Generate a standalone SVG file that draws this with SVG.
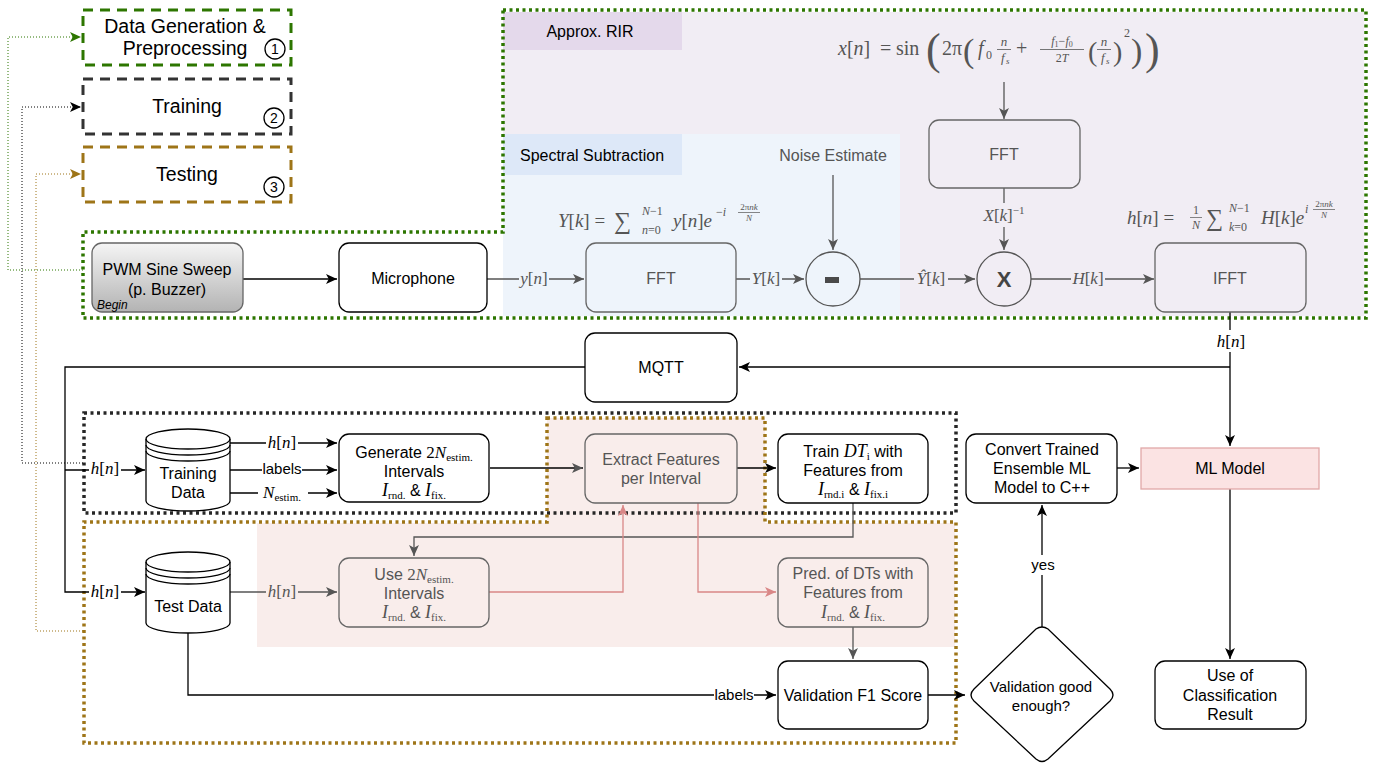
<svg xmlns="http://www.w3.org/2000/svg" width="1390" height="764" viewBox="0 0 1390 764">
<style>
.s{font-family:"Liberation Sans",Arial,sans-serif;font-size:16px;fill:#000;text-anchor:middle}
.e{font-size:15px}
.g{fill:#555}
.lg{font-size:19.5px}
.mr{font-family:"Liberation Serif","DejaVu Serif",serif;font-style:normal}
.mi{font-family:"Liberation Serif","DejaVu Serif",serif;font-style:italic}
.m{font-family:"Liberation Serif","DejaVu Serif",serif;font-size:17px;text-anchor:middle}
.sb{font-family:"Liberation Serif","DejaVu Serif",serif;font-size:11px;font-style:normal}
.box{fill:#fff;stroke:#000;stroke-width:1.3}
.gbox{fill:none;stroke:#666;stroke-width:1.3}
.ln{fill:none;stroke:#000;stroke-width:1.3}
.gl{fill:none;stroke:#555;stroke-width:1.3}
.pl{fill:none;stroke:#D98787;stroke-width:1.3}
.dotg{fill:none;stroke:#2D7600;stroke-width:3.5;stroke-dasharray:3 3.5}
.dotk{fill:none;stroke:#262626;stroke-width:3.5;stroke-dasharray:3 3.5}
.dotb{fill:none;stroke:#9E7518;stroke-width:3.5;stroke-dasharray:3 3.5}
.thin{fill:none;stroke-width:1;stroke-dasharray:1 2}
</style>
<defs>
<marker id="ak" viewBox="0 0 10 10" refX="10" refY="5" markerWidth="11" markerHeight="11" markerUnits="userSpaceOnUse" orient="auto"><path d="M0,0.5 L10,5 L0,9.5 L2.5,5 Z" fill="#000"/></marker>
<marker id="ag" viewBox="0 0 10 10" refX="10" refY="5" markerWidth="11" markerHeight="11" markerUnits="userSpaceOnUse" orient="auto"><path d="M0,0.5 L10,5 L0,9.5 L2.5,5 Z" fill="#555"/></marker>
<marker id="ap" viewBox="0 0 10 10" refX="10" refY="5" markerWidth="11" markerHeight="11" markerUnits="userSpaceOnUse" orient="auto"><path d="M0,0.5 L10,5 L0,9.5 L2.5,5 Z" fill="#D98787"/></marker>
<marker id="agr" viewBox="0 0 10 10" refX="10" refY="5" markerWidth="11" markerHeight="11" markerUnits="userSpaceOnUse" orient="auto"><path d="M0,0.5 L10,5 L0,9.5 L2.5,5 Z" fill="#2D7600"/></marker>
<marker id="abr" viewBox="0 0 10 10" refX="10" refY="5" markerWidth="11" markerHeight="11" markerUnits="userSpaceOnUse" orient="auto"><path d="M0,0.5 L10,5 L0,9.5 L2.5,5 Z" fill="#9E7518"/></marker>
<linearGradient id="gray" x1="0" y1="0" x2="0" y2="1"><stop offset="0" stop-color="#F5F5F5"/><stop offset="1" stop-color="#B3B3B3"/></linearGradient>
</defs>

<!-- background regions -->
<g id="regions">
<rect x="503" y="12" width="861" height="304" fill="#F1EDF4"/>
<rect x="503" y="12" width="179" height="38" fill="#E4D9EB"/>
<text class="s" x="590" y="37">Approx. RIR</text>
<rect x="503" y="134" width="397" height="182" fill="#EEF4FB"/>
<rect x="503" y="134" width="179" height="41" fill="#DDE8F8"/>
<text class="s" x="592" y="161">Spectral Subtraction</text>
<path d="M547,418 H765 V523 H955 V647 H257 V523 H547 Z" fill="#F9EDEB"/>
<path class="dotg" d="M503,10 H1366 V318 H83 V232 H503 Z"/>
<rect class="dotk" x="84" y="413" width="872" height="100"/>
<path class="dotb" d="M547,418 H765 V522 H956 V743 H84 V522 H547 Z"/>
</g>

<!-- legend -->
<g id="legend1">
<rect x="83" y="10" width="208" height="55" fill="none" stroke="#2D7600" stroke-width="3" stroke-dasharray="10 7"/>
<text class="s lg" x="185" y="33">Data Generation &amp;</text>
<text class="s lg" x="185" y="55">Preprocessing</text>
<circle cx="275" cy="49" r="10" fill="none" stroke="#000" stroke-width="1.3"/>
<text class="s" x="275" y="54" style="font-size:14px">1</text>
</g>
<g id="legend2">
<rect x="83" y="79" width="208" height="55" fill="none" stroke="#333" stroke-width="3" stroke-dasharray="10 7"/>
<text class="s lg" x="187" y="113">Training</text>
<circle cx="274" cy="118" r="10" fill="none" stroke="#000" stroke-width="1.3"/>
<text class="s" x="274" y="123" style="font-size:14px">2</text>
</g>
<g id="legend3">
<rect x="83" y="147" width="208" height="55" fill="none" stroke="#9E7518" stroke-width="3" stroke-dasharray="10 7"/>
<text class="s lg" x="187" y="181">Testing</text>
<circle cx="274" cy="187" r="10" fill="none" stroke="#000" stroke-width="1.3"/>
<text class="s" x="274" y="192" style="font-size:14px">3</text>
</g>

<!-- connectors -->
<g id="connectors">
<path class="thin" stroke="#2D7600" d="M83,270 H8 V37 H81" marker-end="url(#agr)"/>
<path class="thin" stroke="#000" d="M83,463 H22 V107 H81" marker-end="url(#ak)"/>
<path class="thin" stroke="#9E7518" d="M83,631 H36 V174 H81" marker-end="url(#abr)"/>

<path class="ln" d="M243,279 H337" marker-end="url(#ak)"/>
<path class="gl" d="M487,279 H584" marker-end="url(#ag)"/>
<path class="gl" d="M736,279 H804" marker-end="url(#ag)"/>
<path class="gl" d="M860,279 H975" marker-end="url(#ag)"/>
<path class="gl" d="M1031,279 H1154" marker-end="url(#ag)"/>
<path class="gl" d="M1004,82 V119" marker-end="url(#ag)"/>
<path class="gl" d="M1004,188 V250" marker-end="url(#ag)"/>
<path class="gl" d="M833,175 V250" marker-end="url(#ag)"/>

<path class="ln" d="M1230,312 V446" marker-end="url(#ak)"/>
<path class="ln" stroke="#333" d="M1230,367 H739" marker-end="url(#ak)"/>
<path class="ln" stroke="#333" d="M585,367 H65 V592 H145" marker-end="url(#ak)"/>
<path class="ln" d="M65,470 H145" marker-end="url(#ak)"/>

<path class="ln" d="M230,443 H337" marker-end="url(#ak)"/>
<path class="ln" d="M230,470 H337" marker-end="url(#ak)"/>
<path class="ln" d="M230,493 H337" marker-end="url(#ak)"/>
<path class="ln" stroke="#333" d="M490,468 H583" marker-end="url(#ag)"/>
<path class="ln" d="M737,468 H776" marker-end="url(#ak)"/>
<path class="gl" d="M853,503 V537 H414 V556" marker-end="url(#ag)"/>

<path class="gl" d="M230,592 H337" marker-end="url(#ag)"/>
<path class="pl" d="M489,592 H623 V505" marker-end="url(#ap)"/>
<path class="pl" d="M698,503 V592 H776" marker-end="url(#ap)"/>
<path class="gl" d="M853,627 V659" marker-end="url(#ag)"/>
<path class="ln" stroke="#333" d="M188,633 V695 H776" marker-end="url(#ak)"/>
<path class="ln" d="M928,695 H965" marker-end="url(#ak)"/>
<path class="ln" d="M1042,627 V505" marker-end="url(#ak)"/>
<path class="ln" d="M1117,468 H1139" marker-end="url(#ak)"/>
<path class="ln" d="M1230,489 V659" marker-end="url(#ak)"/>

<!-- edge labels -->
<rect x="519" y="268" width="30" height="22" fill="#EEF4FB"/>
<text class="m g" x="534" y="284"><tspan class="mi">y</tspan>[<tspan class="mi">n</tspan>]</text>
<rect x="750" y="268" width="32" height="22" fill="#EEF4FB"/>
<text class="m g" x="766" y="284"><tspan class="mi">Y</tspan>[<tspan class="mi">k</tspan>]</text>
<rect x="914" y="264" width="34" height="26" fill="#F1EDF4"/>
<text class="m g" x="931" y="284"><tspan class="mi">Ŷ</tspan>[<tspan class="mi">k</tspan>]</text>
<rect x="1071" y="268" width="34" height="22" fill="#F1EDF4"/>
<text class="m g" x="1088" y="284"><tspan class="mi">H</tspan>[<tspan class="mi">k</tspan>]</text>
<rect x="978" y="203" width="54" height="24" fill="#F1EDF4"/>
<text class="m g" x="1004" y="221"><tspan class="mi">X</tspan>[<tspan class="mi">k</tspan>]<tspan font-size="11" dy="-7">−1</tspan></text>
<rect x="1215" y="330" width="32" height="22" fill="#fff"/>
<text class="m" x="1231" y="347"><tspan class="mi">h</tspan>[<tspan class="mi">n</tspan>]</text>

<rect x="89" y="458" width="32" height="22" fill="#fff"/>
<text class="m" x="105" y="474"><tspan class="mi">h</tspan>[<tspan class="mi">n</tspan>]</text>
<rect x="89" y="580" width="32" height="22" fill="#fff"/>
<text class="m" x="105" y="597"><tspan class="mi">h</tspan>[<tspan class="mi">n</tspan>]</text>
<rect x="266" y="432" width="32" height="22" fill="#fff"/>
<text class="m" x="282" y="448"><tspan class="mi">h</tspan>[<tspan class="mi">n</tspan>]</text>
<rect x="262" y="460" width="40" height="20" fill="#fff"/>
<text class="s e" x="282" y="474">labels</text>
<rect x="258" y="482" width="50" height="24" fill="#fff"/>
<text class="m" x="282" y="498"><tspan class="mi">N</tspan><tspan class="sb" dy="3">estim.</tspan></text>
<rect x="266" y="580" width="32" height="22" fill="#F9EDEB"/>
<text class="m g" x="282" y="597"><tspan class="mi">h</tspan>[<tspan class="mi">n</tspan>]</text>
<rect x="714" y="686" width="40" height="20" fill="#fff"/>
<text class="s e" x="734" y="700">labels</text>
<rect x="1028" y="555" width="30" height="20" fill="#fff"/>
<text class="s e" x="1043" y="570">yes</text>
</g>

<!-- formulas -->
<g id="formula-x" fill="#555" font-family="Liberation Serif,DejaVu Serif,serif">
<text x="838" y="55" font-size="20"><tspan font-style="italic">x</tspan>[<tspan font-style="italic">n</tspan>]</text>
<text x="880" y="55" font-size="20">=</text>
<text x="896" y="55" font-size="20">sin</text>
<text x="926" y="64" font-size="44">(</text>
<text x="942" y="55" font-size="20">2π</text>
<text x="963" y="62" font-size="34">(</text>
<text x="978" y="55" font-size="20" font-style="italic">f</text>
<text x="986" y="59" font-size="12">0</text>
<text x="1004" y="46" font-size="13" font-style="italic" text-anchor="middle">n</text>
<line x1="997" y1="49.5" x2="1011" y2="49.5" stroke="#555" stroke-width="0.8"/>
<text x="1001" y="62" font-size="13" font-style="italic">f</text>
<text x="1006" y="64" font-size="9" font-style="italic">s</text>
<text x="1016" y="55" font-size="20">+</text>
<text x="1062" y="45" font-size="12" text-anchor="middle"><tspan font-style="italic">f</tspan><tspan font-size="8" dy="2">1</tspan><tspan dy="-2">−</tspan><tspan font-style="italic">f</tspan><tspan font-size="8" dy="2">0</tspan></text>
<line x1="1040" y1="49.5" x2="1084" y2="49.5" stroke="#555" stroke-width="0.8"/>
<text x="1062" y="62" font-size="12" text-anchor="middle">2<tspan font-style="italic">T</tspan></text>
<text x="1088" y="61" font-size="28">(</text>
<text x="1104" y="46" font-size="13" font-style="italic" text-anchor="middle">n</text>
<line x1="1097" y1="49.5" x2="1111" y2="49.5" stroke="#555" stroke-width="0.8"/>
<text x="1101" y="62" font-size="13" font-style="italic">f</text>
<text x="1106" y="64" font-size="9" font-style="italic">s</text>
<text x="1113" y="61" font-size="28">)</text>
<text x="1124" y="37" font-size="12">2</text>
<text x="1131" y="62" font-size="34">)</text>
<text x="1145" y="64" font-size="44">)</text>
</g>

<g id="formula-Y" fill="#555" font-family="Liberation Serif,DejaVu Serif,serif">
<text x="558" y="227" font-size="19"><tspan font-style="italic">Y</tspan>[<tspan font-style="italic">k</tspan>] =</text>
<text x="614" y="229" font-size="24">∑</text>
<text x="642" y="215" font-size="12"><tspan font-style="italic">N</tspan>−1</text>
<text x="642" y="234" font-size="12"><tspan font-style="italic">n</tspan>=0</text>
<text x="673" y="227" font-size="19"><tspan font-style="italic">y</tspan>[<tspan font-style="italic">n</tspan>]<tspan font-style="italic">e</tspan></text>
<text x="716" y="216" font-size="12">−<tspan font-style="italic">i</tspan></text>
<text x="749" y="210" font-size="9" font-style="italic" text-anchor="middle"><tspan font-style="normal">2π</tspan>nk</text>
<line x1="738" y1="212.5" x2="760" y2="212.5" stroke="#555" stroke-width="0.7"/>
<text x="749" y="221" font-size="9" font-style="italic" text-anchor="middle">N</text>
</g>

<g id="formula-h" fill="#555" font-family="Liberation Serif,DejaVu Serif,serif">
<text x="1127" y="224" font-size="19"><tspan font-style="italic">h</tspan>[<tspan font-style="italic">n</tspan>] =</text>
<text x="1196" y="214" font-size="12" text-anchor="middle">1</text>
<line x1="1190" y1="217.5" x2="1202" y2="217.5" stroke="#555" stroke-width="0.7"/>
<text x="1196" y="229" font-size="12" font-style="italic" text-anchor="middle">N</text>
<text x="1206" y="226" font-size="24">∑</text>
<text x="1229" y="212" font-size="12"><tspan font-style="italic">N</tspan>−1</text>
<text x="1229" y="231" font-size="12"><tspan font-style="italic">k</tspan>=0</text>
<text x="1261" y="224" font-size="19"><tspan font-style="italic">H</tspan>[<tspan font-style="italic">k</tspan>]<tspan font-style="italic">e</tspan></text>
<text x="1305" y="213" font-size="12" font-style="italic">i</text>
<text x="1324" y="207" font-size="9" font-style="italic" text-anchor="middle"><tspan font-style="normal">2π</tspan>nk</text>
<line x1="1313" y1="209.5" x2="1335" y2="209.5" stroke="#555" stroke-width="0.7"/>
<text x="1324" y="218" font-size="9" font-style="italic" text-anchor="middle">N</text>
</g>

<g id="noise-estimate"><text class="s g" x="833" y="161">Noise Estimate</text></g>

<!-- nodes -->
<g id="pwm">
<rect x="92" y="243" width="151" height="69" rx="10" fill="url(#gray)" stroke="#666" stroke-width="1.3"/>
<text class="s" x="167" y="275">PWM Sine Sweep</text>
<text class="s" x="167" y="295">(p. Buzzer)</text>
<text x="97" y="309" font-family="Liberation Sans,Arial,sans-serif" font-size="12" font-style="italic">Begin</text>
</g>
<g id="microphone">
<rect class="box" x="339" y="243" width="148" height="69" rx="10"/>
<text class="s" x="413" y="284">Microphone</text>
</g>
<g id="fft1">
<rect class="gbox" x="586" y="243" width="150" height="69" rx="10"/>
<text class="s g" x="661" y="284">FFT</text>
</g>
<g id="minus">
<circle cx="833" cy="279" r="27" fill="none" stroke="#555" stroke-width="1.3"/>
<rect x="825" y="277" width="14" height="6" fill="#4a4a4a"/>
</g>
<g id="fft2">
<rect class="gbox" x="929" y="120" width="151" height="68" rx="10"/>
<text class="s g" x="1004" y="160">FFT</text>
</g>
<g id="mult">
<circle cx="1004" cy="279" r="27" fill="none" stroke="#555" stroke-width="1.3"/>
<text class="s" x="1004" y="287" style="font-size:22px;font-weight:bold;fill:#444">X</text>
</g>
<g id="ifft">
<rect class="gbox" x="1155" y="243" width="151" height="69" rx="10"/>
<text class="s g" x="1230" y="284">IFFT</text>
</g>
<g id="mqtt">
<rect class="box" x="585" y="333" width="152" height="69" rx="10"/>
<text class="s" x="661" y="373">MQTT</text>
</g>
<g id="training-data">
<path d="M146,439 A42,10 0 0 1 230,439 V501 A42,10 0 0 1 146,501 Z" fill="#fff" stroke="#000" stroke-width="1.3"/>
<path d="M146,439 A42,10 0 0 0 230,439 M146,445 A42,10 0 0 0 230,445 M146,451 A42,10 0 0 0 230,451" fill="none" stroke="#000" stroke-width="1.3"/>
<text class="s" x="188" y="479">Training</text>
<text class="s" x="188" y="498">Data</text>
</g>
<g id="test-data">
<path d="M146,562 A42,10 0 0 1 230,562 V623 A42,10 0 0 1 146,623 Z" fill="#fff" stroke="#000" stroke-width="1.3"/>
<path d="M146,562 A42,10 0 0 0 230,562 M146,568 A42,10 0 0 0 230,568 M146,574 A42,10 0 0 0 230,574" fill="none" stroke="#000" stroke-width="1.3"/>
<text class="s" x="188" y="612">Test Data</text>
</g>
<g id="generate">
<rect class="box" x="339" y="434" width="150" height="68" rx="10"/>
<text class="s" x="414" y="458">Generate <tspan class="mr" font-size="17">2</tspan><tspan class="mi" font-size="17">N</tspan><tspan class="sb" dy="3">estim.</tspan></text>
<text class="s" x="414" y="477">Intervals</text>
<text class="s" x="414" y="496"><tspan class="mi" font-size="18">I</tspan><tspan class="sb" dy="3">rnd.</tspan><tspan dy="-3"> &amp; </tspan><tspan class="mi" font-size="18">I</tspan><tspan class="sb" dy="3">fix.</tspan></text>
</g>
<g id="extract">
<rect class="gbox" x="585" y="434" width="152" height="69" rx="10"/>
<text class="s g" x="661" y="465">Extract Features</text>
<text class="s g" x="661" y="484">per Interval</text>
</g>
<g id="train-dt">
<rect class="box" x="778" y="434" width="150" height="69" rx="10"/>
<text class="s" x="853" y="457">Train <tspan class="mi" font-size="18">DT</tspan><tspan class="sb" dy="3">i</tspan><tspan dy="-3"> with</tspan></text>
<text class="s" x="853" y="476">Features from</text>
<text class="s" x="853" y="495"><tspan class="mi" font-size="18">I</tspan><tspan class="sb" dy="3">rnd.i</tspan><tspan dy="-3"> &amp; </tspan><tspan class="mi" font-size="18">I</tspan><tspan class="sb" dy="3">fix.i</tspan></text>
</g>
<g id="use-intervals">
<rect class="gbox" x="339" y="558" width="150" height="69" rx="10"/>
<text class="s g" x="414" y="580">Use <tspan class="mr" font-size="17">2</tspan><tspan class="mi" font-size="17">N</tspan><tspan class="sb" dy="3">estim.</tspan></text>
<text class="s g" x="414" y="599">Intervals</text>
<text class="s g" x="414" y="618"><tspan class="mi" font-size="18">I</tspan><tspan class="sb" dy="3">rnd.</tspan><tspan dy="-3"> &amp; </tspan><tspan class="mi" font-size="18">I</tspan><tspan class="sb" dy="3">fix.</tspan></text>
</g>
<g id="pred">
<rect class="gbox" x="778" y="558" width="150" height="69" rx="10"/>
<text class="s g" x="853" y="579">Pred. of DTs with</text>
<text class="s g" x="853" y="598">Features from</text>
<text class="s g" x="853" y="618"><tspan class="mi" font-size="18">I</tspan><tspan class="sb" dy="3">rnd.</tspan><tspan dy="-3"> &amp; </tspan><tspan class="mi" font-size="18">I</tspan><tspan class="sb" dy="3">fix.</tspan></text>
</g>
<g id="validation">
<rect class="box" x="778" y="661" width="150" height="68" rx="10"/>
<text class="s" x="853" y="701">Validation F1 Score</text>
</g>
<g id="decision">
<path d="M1036,629 Q1042,625 1048,629 L1110,689 Q1116,695 1110,701 L1048,759 Q1042,764 1036,759 L974,701 Q968,695 974,689 Z" fill="#fff" stroke="#000" stroke-width="1.3"/>
<text class="s e" x="1041" y="692">Validation good</text>
<text class="s e" x="1041" y="711">enough?</text>
</g>
<g id="convert">
<rect class="box" x="966" y="434" width="151" height="69" rx="10"/>
<text class="s" x="1042" y="455">Convert Trained</text>
<text class="s" x="1042" y="474">Ensemble ML</text>
<text class="s" x="1042" y="493">Model to C++</text>
</g>
<g id="ml-model">
<rect x="1141" y="448" width="178" height="41" fill="#FBE3E3" stroke="#E0A8A8" stroke-width="1.3"/>
<text class="s" x="1230" y="474">ML Model</text>
</g>
<g id="use-result">
<rect class="box" x="1155" y="661" width="151" height="68" rx="10"/>
<text class="s" x="1230" y="681">Use of</text>
<text class="s" x="1230" y="701">Classification</text>
<text class="s" x="1230" y="720">Result</text>
</g>
</svg>
